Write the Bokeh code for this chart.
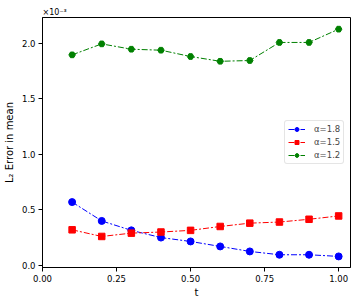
from bokeh.plotting import figure
from bokeh.models import Range1d, FixedTicker, CustomJSTickFormatter, Legend, LegendItem
from bokeh.embed import file_html
from bokeh.resources import INLINE

t = [0.1, 0.2, 0.3, 0.4, 0.5, 0.6, 0.7, 0.8, 0.9, 1.0]
err_18 = [0.57, 0.40, 0.315, 0.25, 0.215, 0.17, 0.125, 0.095, 0.095, 0.08]
err_15 = [0.32, 0.26, 0.29, 0.30, 0.315, 0.35, 0.38, 0.39, 0.415, 0.445]
err_12 = [1.898, 1.997, 1.949, 1.94, 1.883, 1.84, 1.847, 2.01, 2.01, 2.13]
labels = ["α=1.8", "α=1.5", "α=1.2"]
x_ticks = [0.0, 0.25, 0.5, 0.75, 1.0]
y_ticks = [0.0, 0.5, 1.0, 1.5, 2.0]

p = figure(frame_width=308, frame_height=250, output_backend="svg", toolbar_location=None,
           x_range=Range1d(0.0, 1.04), y_range=Range1d(-0.02, 2.235),
           min_border_left=42, min_border_right=6, min_border_top=17, min_border_bottom=30,
           title="×10⁻³")
p.title.align = "left"
p.title.text_font = "DejaVu Sans"
p.title.text_font_size = "8px"
p.title.text_font_style = "normal"
p.title.text_color = "black"
p.title.standoff = 2
p.title.offset = 0
p.xgrid.visible = False
p.ygrid.visible = False
p.outline_line_color = "black"
p.outline_line_alpha = 1
p.outline_line_width = 1

for ax in (p.xaxis, p.yaxis):
    ax.major_tick_out = 4
    ax.major_tick_in = 0
    ax.minor_tick_line_color = None
    ax.major_label_text_font = "DejaVu Sans"
    ax.major_label_text_font_size = "8.5px"
    ax.major_label_text_color = "black"
    ax.axis_label_text_font = "DejaVu Sans"
    ax.axis_label_text_font_size = "10px"
    ax.axis_label_text_font_style = "normal"
    ax.axis_label_text_color = "black"
    ax.axis_line_color = "black"
p.xaxis.ticker = FixedTicker(ticks=x_ticks)
p.yaxis.ticker = FixedTicker(ticks=y_ticks)
p.xaxis.formatter = CustomJSTickFormatter(code="return tick.toFixed(2);")
p.yaxis.formatter = CustomJSTickFormatter(code="return tick.toFixed(1);")
p.xaxis.axis_label = "t"
p.yaxis.axis_label = "L₂ Error in mean"
p.xaxis.major_label_standoff = 3
p.yaxis.major_label_standoff = 3
p.xaxis.axis_label_standoff = 2
p.yaxis.axis_label_standoff = 4

dash = "6 2 2 2"
r1l = p.line(t, err_18, color="blue", line_width=1, line_dash=dash)
r1m = p.scatter(t, err_18, marker="circle", size=7, color="blue")
r2l = p.line(t, err_15, color="red", line_width=1, line_dash=dash)
r2m = p.scatter(t, err_15, marker="square", size=6.5, color="red")
r3l = p.line(t, err_12, color="green", line_width=1, line_dash=dash)
r3m = p.scatter(t, err_12, marker="hex", size=6.5, color="green")

legend = Legend(items=[LegendItem(label=labels[0], renderers=[r1l, r1m]),
                       LegendItem(label=labels[1], renderers=[r2l, r2m]),
                       LegendItem(label=labels[2], renderers=[r3l, r3m])],
                location=(242, 103))
legend.label_text_font = "DejaVu Sans"
legend.label_text_font_size = "8.5px"
legend.label_height = 10
legend.glyph_height = 10
legend.glyph_width = 17
legend.spacing = 3
legend.padding = 3
legend.margin = 0
legend.label_standoff = 9
legend.border_line_color = "#cccccc"
legend.border_radius = 3
legend.background_fill_alpha = 0.8
p.add_layout(legend)

open("out.html", "w").write(file_html(p, INLINE))
